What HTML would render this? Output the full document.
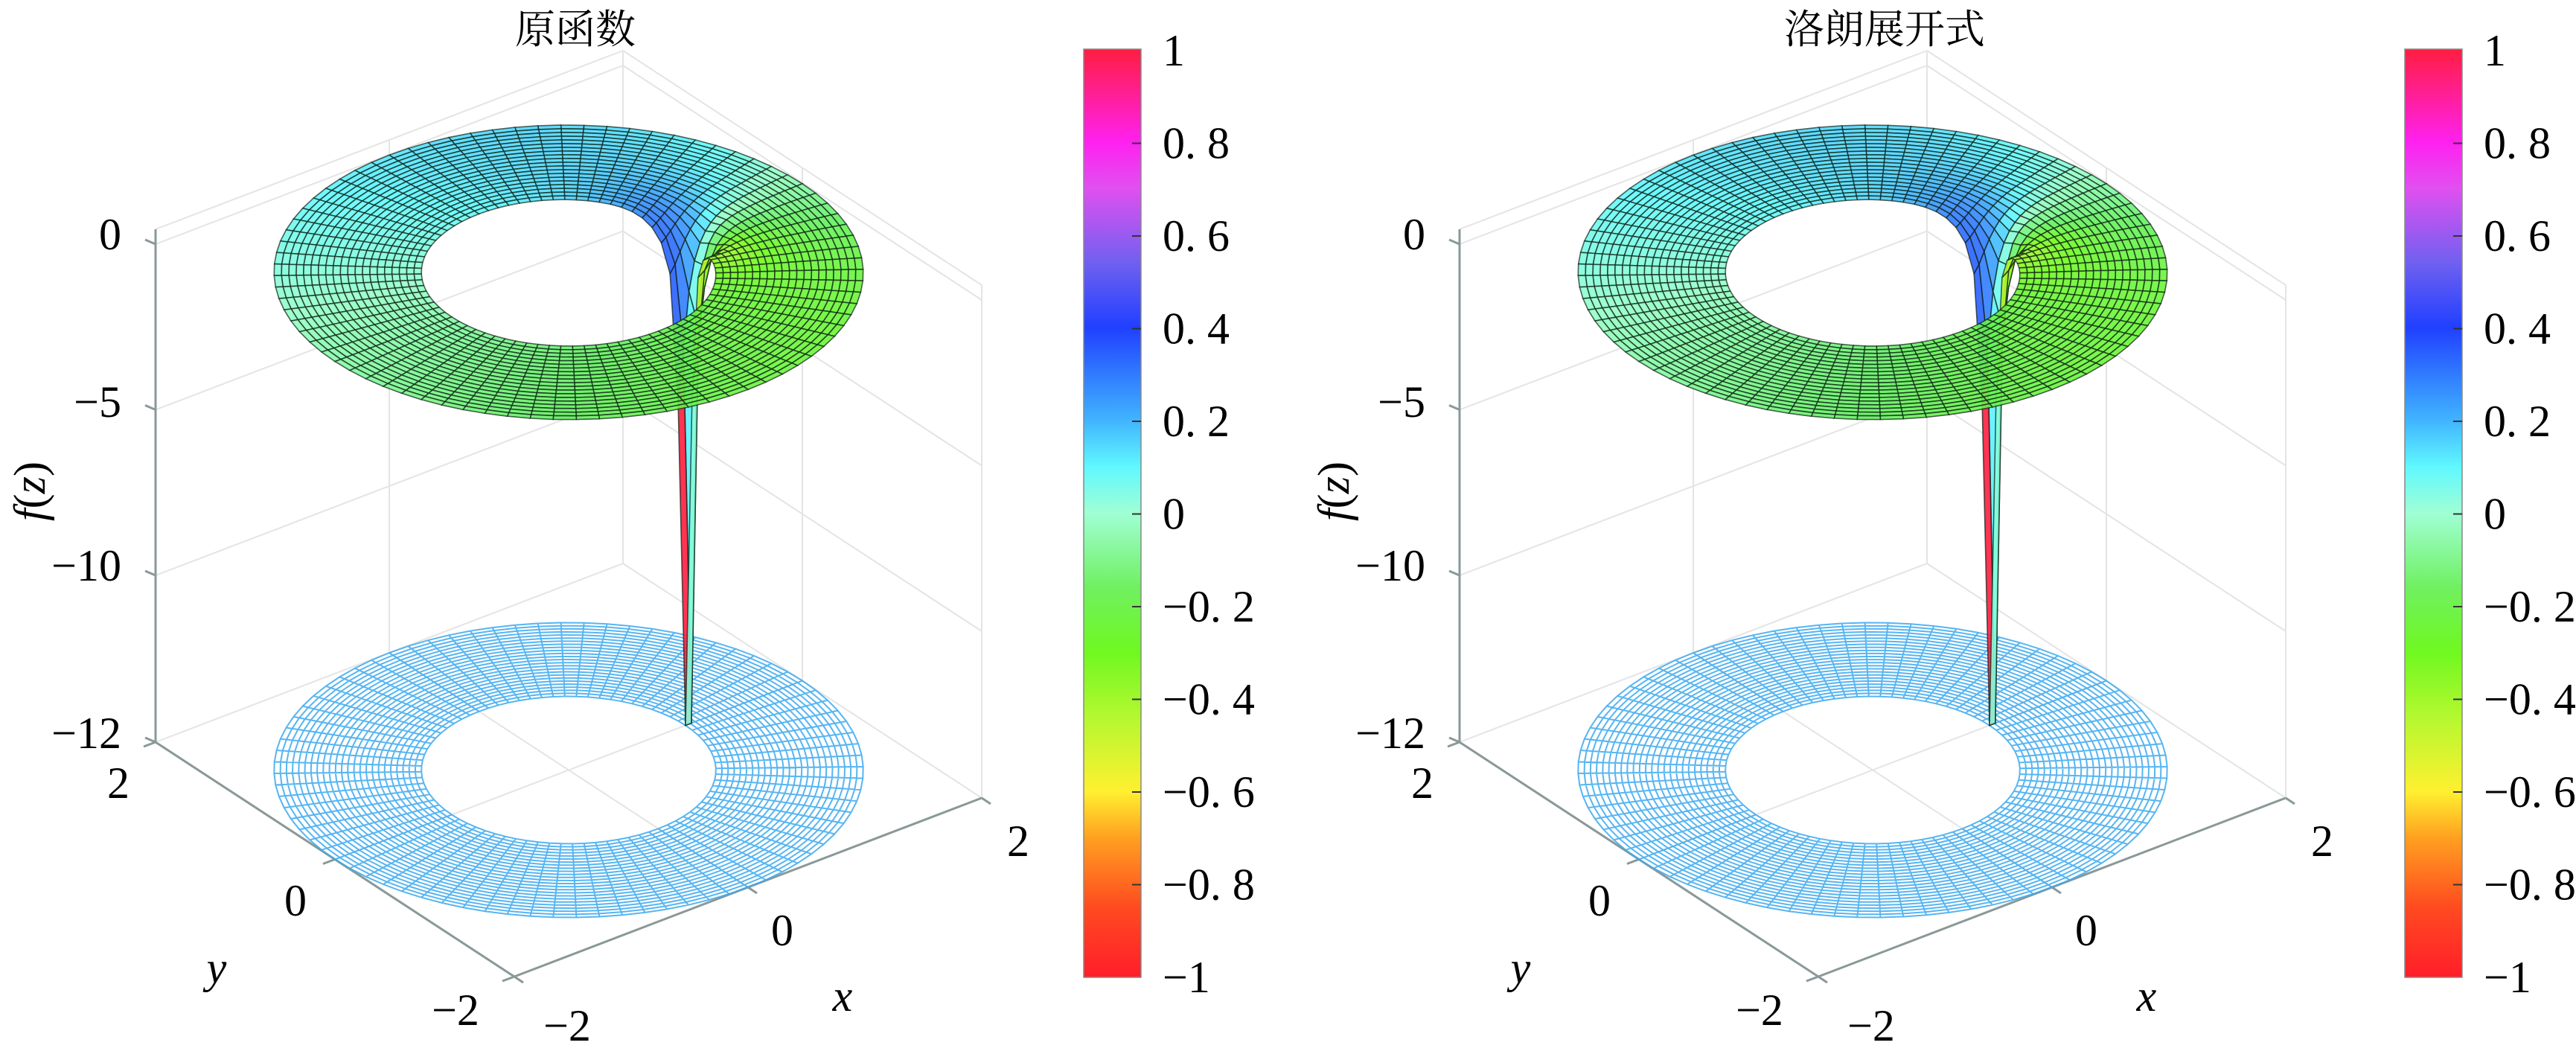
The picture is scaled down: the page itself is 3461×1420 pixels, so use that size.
<!DOCTYPE html>
<html><head><meta charset="utf-8">
<style>
html,body{margin:0;padding:0;background:#fff;}
svg{display:block;}
text{font-family:"Liberation Serif","Times New Roman",serif;fill:#000;}
.t{font-size:60px;font-family:"Liberation Serif","Times New Roman",serif;}
.ti{font-size:54px;font-family:"Liberation Serif","Noto Serif CJK SC",serif;}
.it{font-style:italic;font-size:60px;font-family:"Liberation Serif","Times New Roman",serif;}
</style></head>
<body>
<svg id="s" width="3461" height="1420" viewBox="0 0 3461 1420" xmlns="http://www.w3.org/2000/svg">
<defs>
<linearGradient id="cb" x1="0" y1="1" x2="0" y2="0">
<stop offset="0" stop-color="#ff1e2a"/>
<stop offset="0.075" stop-color="#ff4a20"/>
<stop offset="0.15" stop-color="#ffa020"/>
<stop offset="0.2" stop-color="#fff030"/>
<stop offset="0.28" stop-color="#b4f830"/>
<stop offset="0.35" stop-color="#70f820"/>
<stop offset="0.42" stop-color="#70f060"/>
<stop offset="0.5" stop-color="#a0ffd4"/>
<stop offset="0.55" stop-color="#60f8ff"/>
<stop offset="0.6" stop-color="#40b4ff"/>
<stop offset="0.7" stop-color="#2040ff"/>
<stop offset="0.77" stop-color="#7060f0"/>
<stop offset="0.85" stop-color="#e050f0"/>
<stop offset="0.9" stop-color="#ff20f0"/>
<stop offset="1" stop-color="#ff1e40"/>
</linearGradient>
</defs>
<g id="p0"></g>
<g id="p1"></g>
<text class="ti" x="773" y="58" text-anchor="middle">原函数</text>
<text class="ti" x="2532" y="58" text-anchor="middle">洛朗展开式</text>
<rect x="1456" y="66" width="77" height="1247" fill="url(#cb)" stroke="#888" stroke-width="1.5"/>
<rect x="3231" y="66" width="77" height="1247" fill="url(#cb)" stroke="#888" stroke-width="1.5"/>
<g id="cbl"></g>
</svg>
<script>
const NS="http://www.w3.org/2000/svg";
const SERIF='"Liberation Serif","Times New Roman",serif';
function el(tag,attrs,parent,txt){const e=document.createElementNS(NS,tag);for(const k in attrs)e.setAttribute(k,attrs[k]);if(txt!==undefined)e.textContent=txt;parent.appendChild(e);return e;}
const stops=[[-1,[255,30,42]],[-0.85,[255,74,32]],[-0.7,[255,160,32]],[-0.6,[255,240,48]],[-0.44,[180,248,48]],[-0.3,[112,248,32]],[-0.16,[100,240,96]],[0,[150,255,200]],[0.1,[96,248,255]],[0.2,[64,180,255]],[0.4,[32,64,255]],[0.54,[112,96,240]],[0.7,[224,80,240]],[0.8,[255,32,240]],[1,[255,30,64]]];
function cmap(c){c=Math.max(-1,Math.min(1,c));for(let i=0;i<stops.length-1;i++){const a=stops[i],b=stops[i+1];if(c<=b[0]){const t=(c-a[0])/(b[0]-a[0]);return 'rgb('+[0,1,2].map(j=>Math.round(a[1][j]+(b[1][j]-a[1][j])*t)).join(',')+')';}}return 'rgb(255,30,64)';}
function zs(h){h=Math.max(-12,h);return h>=-10?224+(h+10)*44.5:224+(h+10)*112;}
function panel(g,ox){
  const cx=764+ox,cy=1034.5;
  const P=(x,y,h)=>[cx+157*x-120.5*y, cy-60*x-78.75*y-zs(h)];
  const line=(a,b,st,w)=>el('line',{x1:a[0].toFixed(1),y1:a[1].toFixed(1),x2:b[0].toFixed(1),y2:b[1].toFixed(1),stroke:st,'stroke-width':w},g);
  const gc='#e4e4e4';
  for(const h of [0.45,0,-5,-10,-12]){line(P(-2,2,h),P(2,2,h),gc,2);line(P(2,2,h),P(2,-2,h),gc,2);}
  for(const v of [[0,2],[2,2],[2,0],[2,-2]]) line(P(v[0],v[1],-12),P(v[0],v[1],0.45),gc,2);
  line(P(0,-2,-12),P(0,2,-12),gc,2);line(P(-2,0,-12),P(2,0,-12),gc,2);
  const ac='#8a9898';
  line(P(-2,2,-12),P(-2,2,0.45),ac,3);
  line(P(-2,2,-12),P(-2,-2,-12),ac,3);
  line(P(-2,-2,-12),P(2,-2,-12),ac,3);
  for(const h of [0,-5,-10,-12]){const p=P(-2,2,h);line(p,[p[0]-14,p[1]-6],ac,3);}
  for(const y of [2,0,-2]){const p=P(-2,y,-12);line(p,[p[0]-16,p[1]+6],ac,3);}
  for(const x of [-2,0,2]){const p=P(x,-2,-12);line(p,[p[0]+12,p[1]+8],ac,3);}
  const NT=80,NRf=24;
  let d='';
  for(let i=0;i<=NRf;i++){const r=1+i/NRf;let s='';for(let j=0;j<=NT;j++){const t=j/NT*2*Math.PI;const p=P(r*Math.cos(t),r*Math.sin(t),-12);s+=(j?'L':'M')+p[0].toFixed(1)+' '+p[1].toFixed(1);}d+=s;}
  for(let j=0;j<NT;j++){const t=j/NT*2*Math.PI;const a=P(Math.cos(t),Math.sin(t),-12),b=P(2*Math.cos(t),2*Math.sin(t),-12);d+='M'+a[0].toFixed(1)+' '+a[1].toFixed(1)+'L'+b[0].toFixed(1)+' '+b[1].toFixed(1);}
  el('path',{d:d,fill:'none',stroke:'#3aa8ee','stroke-width':2,'stroke-opacity':0.85},g);
  const NTh=80,NR=20;
  const H=[],C=[];
  for(let i=0;i<=NR;i++){H[i]=[];C[i]=[];const r=1+i/NR;for(let j=0;j<=NTh;j++){const t=j/NTh*2*Math.PI;const x=r*Math.cos(t),y=r*Math.sin(t);const d2=(x-1)*(x-1)+y*y;
    let h=(i===0&&(j===0||j===NTh))?-12:-Math.min(12,0.03/d2);
    if(y>0) h-=0.6*Math.exp(-d2/0.08)*(2-r);
    H[i][j]=h;
    const s=y/Math.sqrt(Math.max(d2,1e-4));
    C[i][j]=0.2*s-0.05+0.22*Math.exp(-d2/0.35)*s;}}
  const faces=[];
  for(let i=0;i<NR;i++)for(let j=0;j<NTh;j++){
    const r0=1+i/NR,r1=1+(i+1)/NR,t0=j/NTh*2*Math.PI,t1=(j+1)/NTh*2*Math.PI;
    const v=[[r0,t0,i,j],[r1,t0,i+1,j],[r1,t1,i+1,j+1],[r0,t1,i,j+1]];
    let sx=0,sy=0,sh=0,sc=0;const pts=v.map(q=>{const x=q[0]*Math.cos(q[1]),y=q[0]*Math.sin(q[1]),h=H[q[2]][q[3]];sx+=x;sy+=y;sh+=Math.max(h,-1);sc+=C[q[2]][q[3]];return P(x,y,h);});
    let c=sc/4;
    if(i===0&&j===0)c=1; if(i===0&&j===NTh-1)c=0.03;
    faces.push({pts,c,dep:0.6*sx/4+0.8*sy/4-0.05*sh/4});
  }
  faces.sort((a,b)=>b.dep-a.dep);
  const sg=el('g',{},g);
  for(const f of faces){
    el('path',{d:'M'+f.pts.map(p=>p[0].toFixed(1)+' '+p[1].toFixed(1)).join('L')+'Z',fill:cmap(f.c),'fill-opacity':0.9,stroke:'#0c2014','stroke-opacity':0.7,'stroke-width':1.6},sg);
  }
  const L=(x,y,t,cls,anc)=>el('text',{x:x,y:y,class:cls||'t','font-family':SERIF,'text-anchor':anc||'middle','dominant-baseline':'central'},g,t);
  L(163+ox,315,'0','t','end');L(163+ox,540,'−5','t','end');L(163+ox,760,'−10','t','end');L(163+ox,985,'−12','t','end');
  L(159+ox,1052,'2');L(397+ox,1210,'0');L(612+ox,1357,'−2');
  L(762+ox,1378,'−2');L(1051+ox,1250,'0');L(1368+ox,1130,'2');
  L(291+ox,1300,'y','it');L(1132+ox,1338,'x','it');
  const fz=el('text',{x:0,y:0,class:'t','font-family':SERIF,'text-anchor':'middle','dominant-baseline':'central',transform:'translate('+(40+ox)+',660) rotate(-90)'},g);
  el('tspan',{'font-style':'italic'},fz,'f');el('tspan',{},fz,'(');el('tspan',{'font-style':'italic'},fz,'z');el('tspan',{},fz,')');
}
panel(document.getElementById('p0'),0);
panel(document.getElementById('p1'),1752);
const cbl=document.getElementById('cbl');
const labs=['1','0. 8','0. 6','0. 4','0. 2','0','−0. 2','−0. 4','−0. 6','−0. 8','−1'];
for(const ox of [0,1775]){for(let k=0;k<11;k++){const y=68+124.5*k;el('text',{x:1562+ox,y:y,class:'t','font-family':SERIF,'dominant-baseline':'central'},cbl,labs[k]);
 if(k>0&&k<10)el('line',{x1:1521+ox,y1:y,x2:1533+ox,y2:y,stroke:'#333','stroke-width':2},cbl);}}
</script>
</body></html>
